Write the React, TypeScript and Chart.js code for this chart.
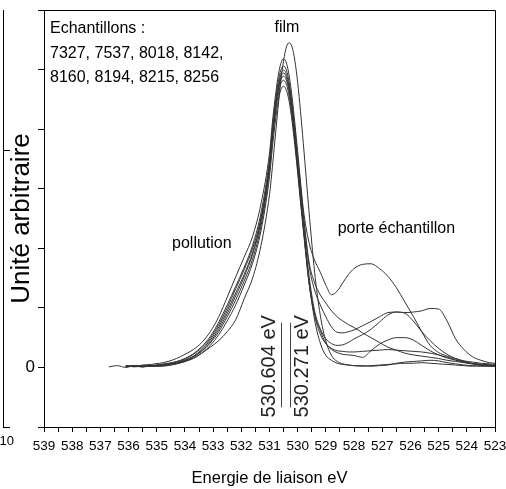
import React, { useEffect, useRef } from 'react';
import { Chart, registerables } from 'chart.js';

Chart.register(...registerables);

// Binding energies (eV) shared by all spectra
const energies = [
  536.7, 536.4, 536.1, 535.8, 535.5, 535.2, 534.9, 534.6, 534.3, 534.0,
  533.7, 533.4, 533.1, 532.8, 532.5, 532.2, 531.9, 531.6, 531.3, 531.0,
  530.9, 530.8, 530.7, 530.6, 530.5, 530.4, 530.3, 530.2, 530.1, 530.0,
  529.9, 529.8, 529.6, 529.4, 529.2, 529.0, 528.8, 528.6, 528.4, 528.2,
  528.0, 527.7, 527.4, 527.1, 526.8, 526.5, 526.2, 525.9, 525.6, 525.3,
  525.0, 524.7, 524.4, 524.1, 523.8, 523.5, 523.2, 523.0,
];

const samples = ['7327', '7537', '8018', '8142', '8160', '8194', '8215', '8256'];

const s7327 = [null, null, 0.02, 0.02, 0.01, 0.02, 0.02, 0.03, 0.06, 0.1,
  0.16, 0.24, 0.34, 0.45, 0.6, 0.8, 1.15, 1.5, 2.05, 2.9,
  3.35, 3.85, 4.35, 4.8, 5.15, 5.38, 5.45, 5.38, 5.15, 4.78, 4.3, 3.76,
  2.63, 1.6, 0.88, 0.44, 0.2, 0.1, 0.06, 0.04, 0.03,
  0.02, 0.03, 0.04, 0.05, 0.06, 0.07, 0.07, 0.08, 0.07, 0.06, 0.05, 0.04, 0.03, 0.02, 0.03, 0.02, 0.02];
const s7537 = [null, null, 0.03, 0.02, 0.04, 0.05, 0.07, 0.1, 0.15, 0.22,
  0.3, 0.42, 0.6, 0.85, 1.18, 1.52, 1.85, 2.2, 2.75, 3.6,
  4.1, 4.52, 4.87, 5.1, 5.18, 5.11, 4.89, 4.54, 4.1, 3.62, 3.12, 2.66,
  2.1, 1.8, 1.6, 1.38, 1.22, 1.28, 1.42, 1.56, 1.66,
  1.73, 1.74, 1.66, 1.53, 1.34, 1.1, 0.86, 0.6, 0.37, 0.25, 0.19, 0.15, 0.11, 0.09, 0.07, 0.06, 0.05];
const s8018 = [null, null, 0.01, 0.03, 0.02, 0.03, 0.05, 0.07, 0.1, 0.15,
  0.23, 0.35, 0.52, 0.76, 1.05, 1.36, 1.68, 2.05, 2.6, 3.5,
  4.0, 4.42, 4.77, 4.99, 5.06, 4.99, 4.78, 4.43, 3.99, 3.52, 3.05, 2.57,
  1.78, 1.42, 1.22, 1.08, 0.95, 0.85, 0.78, 0.72, 0.67,
  0.58, 0.5, 0.42, 0.34, 0.29, 0.24, 0.21, 0.19, 0.17, 0.15, 0.12, 0.1, 0.08, 0.06, 0.05, 0.04, 0.03];
const s8142 = [null, null, 0.02, 0.02, 0.01, 0.03, 0.04, 0.05, 0.08, 0.12,
  0.19, 0.3, 0.46, 0.68, 0.95, 1.25, 1.56, 1.93, 2.48, 3.42,
  3.93, 4.36, 4.7, 4.92, 4.99, 4.92, 4.71, 4.37, 3.95, 3.48, 3.0, 2.55,
  1.72, 1.3, 1.05, 0.85, 0.68, 0.59, 0.58, 0.6, 0.63,
  0.7, 0.77, 0.85, 0.92, 0.93, 0.92, 0.93, 0.95, 0.99, 0.98, 0.78, 0.48, 0.3, 0.18, 0.12, 0.08, 0.07];
const s8160 = [null, null, 0.03, 0.01, 0.02, 0.02, 0.03, 0.05, 0.07, 0.11,
  0.18, 0.28, 0.43, 0.64, 0.9, 1.2, 1.52, 1.9, 2.45, 3.38,
  3.88, 4.31, 4.65, 4.87, 4.94, 4.87, 4.66, 4.33, 3.89, 3.41, 2.9, 2.42,
  1.55, 0.95, 0.65, 0.48, 0.4, 0.37, 0.38, 0.42, 0.48,
  0.55, 0.64, 0.76, 0.88, 0.93, 0.91, 0.78, 0.6, 0.45, 0.32, 0.22, 0.15, 0.1, 0.07, 0.05, 0.04, 0.03];
const s8194 = [null, null, 0.02, 0.02, 0.03, 0.02, 0.04, 0.06, 0.09, 0.14,
  0.22, 0.33, 0.49, 0.72, 1.0, 1.32, 1.64, 2.0, 2.52, 3.4,
  3.88, 4.3, 4.62, 4.83, 4.89, 4.82, 4.62, 4.28, 3.85, 3.37, 2.87, 2.37,
  1.45, 0.8, 0.41, 0.2, 0.12, 0.07, 0.05, 0.04, 0.03,
  0.03, 0.02, 0.03, 0.04, 0.07, 0.09, 0.1, 0.11, 0.12, 0.11, 0.08, 0.06, 0.04, 0.03, 0.02, 0.02, 0.02];
const s8215 = [null, null, 0.01, 0.02, 0.02, 0.03, 0.03, 0.05, 0.08, 0.12,
  0.18, 0.27, 0.41, 0.6, 0.85, 1.13, 1.45, 1.82, 2.38, 3.3,
  3.8, 4.22, 4.55, 4.76, 4.82, 4.75, 4.55, 4.22, 3.8, 3.33, 2.83, 2.35,
  1.45, 0.9, 0.62, 0.4, 0.3, 0.25, 0.22, 0.21, 0.2,
  0.17, 0.28, 0.39, 0.46, 0.5, 0.5, 0.46, 0.37, 0.28, 0.21, 0.16, 0.12, 0.09, 0.06, 0.05, 0.04, 0.03];
const s8256 = [0.01, 0.03, 0.0, 0.03, 0.01, 0.03, 0.02, 0.04, 0.06, 0.1,
  0.15, 0.24, 0.37, 0.55, 0.78, 1.05, 1.38, 1.75, 2.3, 3.2,
  3.68, 4.1, 4.44, 4.66, 4.72, 4.65, 4.46, 4.13, 3.72, 3.26, 2.77, 2.3,
  1.42, 0.87, 0.56, 0.4, 0.32, 0.28, 0.27, 0.26, 0.26,
  0.27, 0.28, 0.29, 0.3, 0.29, 0.28, 0.27, 0.26, 0.24, 0.21, 0.17, 0.13, 0.09, 0.06, 0.04, 0.03, 0.03];

const seriesValues = [s7327, s7537, s8018, s8142, s8160, s8194, s8215, s8256];

// Axis ranges and tick labels
const xMin = 523;
const xMax = 539;
const xStep = 0.5;
const yMin = -1;
const yMax = 6;
const yTickLabels: Record<string, string> = { '0': '0' };

// Annotations
const headerLines = ['Echantillons :', '7327, 7537, 8018, 8142,', '8160, 8194, 8215, 8256'];
const notes = [
  { text: 'film', x: 530.38, y: 5.63 },
  { text: 'pollution', x: 533.4, y: 2.0 },
  { text: 'porte échantillon', x: 526.5, y: 2.25 },
];
const peakMarks = [
  { e: 530.604, text: '530.604 eV', side: -1 },
  { e: 530.271, text: '530.271 eV', side: 1 },
];

const FONT = "'Liberation Sans', Arial, Helvetica, sans-serif";

const decor = {
  id: 'decor',
  afterDraw(chart: any) {
    const { ctx, chartArea: ca, scales } = chart;
    const xs = scales.x;
    const ys = scales.y;
    ctx.save();
    ctx.strokeStyle = '#000';
    ctx.lineWidth = 1;
    // top + right frame
    const t = Math.round(ca.top) + 0.5;
    const r = Math.round(ca.right) + 0.5;
    ctx.beginPath();
    ctx.moveTo(ca.left, t);
    ctx.lineTo(r, t);
    ctx.lineTo(r, ca.bottom);
    ctx.stroke();

    // remnant of neighbouring panel on the far left
    ctx.beginPath();
    ctx.moveTo(3.5, ca.top);
    ctx.lineTo(3.5, ca.bottom);
    ctx.moveTo(3, Math.round(ca.top + 140) + 0.5);
    ctx.lineTo(10, Math.round(ca.top + 140) + 0.5);
    ctx.moveTo(3, Math.round(ca.bottom) + 0.5);
    ctx.lineTo(10, Math.round(ca.bottom) + 0.5);
    ctx.stroke();
    ctx.fillStyle = '#000';
    ctx.font = `13px ${FONT}`;
    ctx.textAlign = 'right';
    ctx.textBaseline = 'alphabetic';
    ctx.fillText('10', 14, ca.bottom + 18);

    // header
    ctx.font = `16px ${FONT}`;
    ctx.textAlign = 'left';
    headerLines.forEach((line, i) => {
      ctx.fillText(line, ca.left + 6, ca.top + 23 + i * 24.5);
    });

    // region notes
    ctx.textAlign = 'center';
    notes.forEach((n) => {
      ctx.fillText(n.text, xs.getPixelForValue(n.x), ys.getPixelForValue(n.y));
    });

    // peak position marks
    ctx.strokeStyle = '#444';
    ctx.fillStyle = '#222';
    ctx.font = `20px ${FONT}`;
    ctx.textAlign = 'left';
    peakMarks.forEach((m) => {
      const px = Math.round(xs.getPixelForValue(m.e)) + 0.5;
      ctx.beginPath();
      ctx.moveTo(px, ys.getPixelForValue(0.75));
      ctx.lineTo(px, ys.getPixelForValue(-0.67));
      ctx.stroke();
      const bx = m.side < 0 ? px - 7 : px + 17;
      ctx.save();
      ctx.translate(bx, ys.getPixelForValue(-0.84));
      ctx.rotate(-Math.PI / 2);
      ctx.fillText(m.text, 0, 0);
      ctx.restore();
    });
    ctx.restore();
  },
};

export default function App() {
  const ref = useRef<HTMLCanvasElement | null>(null);

  useEffect(() => {
    if (!ref.current) return;
    const datasets = seriesValues.map((vals, i) => ({
      label: samples[i],
      data: energies.map((e, j) => ({ x: e, y: vals[j] })),
      borderColor: '#333',
      borderWidth: 1,
      pointRadius: 0,
      fill: false,
      cubicInterpolationMode: 'monotone' as const,
      spanGaps: false,
    }));
    const chart = new Chart(ref.current, {
      type: 'line',
      data: { datasets },
      options: {
        animation: false,
        responsive: false,
        devicePixelRatio: 1,
        layout: { padding: { top: 10, right: 11, left: 0, bottom: 0 } },
        plugins: { legend: { display: false }, tooltip: { enabled: false } },
        scales: {
          x: {
            type: 'linear',
            reverse: true,
            min: xMin,
            max: xMax,
            ticks: {
              stepSize: xStep,
              autoSkip: false,
              maxRotation: 0,
              minRotation: 0,
              padding: 6,
              color: '#000',
              font: { family: FONT, size: 13.5 },
              callback: (v: any) => (Number.isInteger(v) ? String(v) : ''),
            },
            grid: { drawOnChartArea: false, tickLength: 5, color: '#000', lineWidth: 1 },
            border: { color: '#000', width: 1 },
            title: {
              display: true,
              text: 'Energie de liaison eV',
              color: '#000',
              font: { family: FONT, size: 16.5, lineHeight: 1.2 },
              padding: { top: 0, bottom: 1 },
            },
            afterFit: (s: any) => { s.height = 62; s.paddingLeft = 0; s.paddingRight = 0; },
          },
          y: {
            type: 'linear',
            min: yMin,
            max: yMax,
            ticks: {
              stepSize: 1,
              padding: 3,
              color: '#000',
              font: { family: FONT, size: 17 },
              callback: (v: any) => yTickLabels[String(v)] ?? '',
            },
            grid: { drawOnChartArea: false, tickLength: 6, color: '#000', lineWidth: 1 },
            border: { color: '#000', width: 1 },
            title: {
              display: true,
              text: 'Unité arbitraire',
              color: '#000',
              font: { family: FONT, size: 26, lineHeight: 1.2 },
              padding: { top: 6, bottom: 0 },
            },
            afterFit: (s: any) => { s.width = 44; s.paddingTop = 0; s.paddingBottom = 0; },
          },
        },
      },
      plugins: [decor],
    });
    return () => chart.destroy();
  }, []);

  return (
    <div style={{ position: 'fixed', left: 0, top: 0, width: 506, height: 489, background: '#fff' }}>
      <canvas ref={ref} width={506} height={489} style={{ display: 'block' }} />
    </div>
  );
}
